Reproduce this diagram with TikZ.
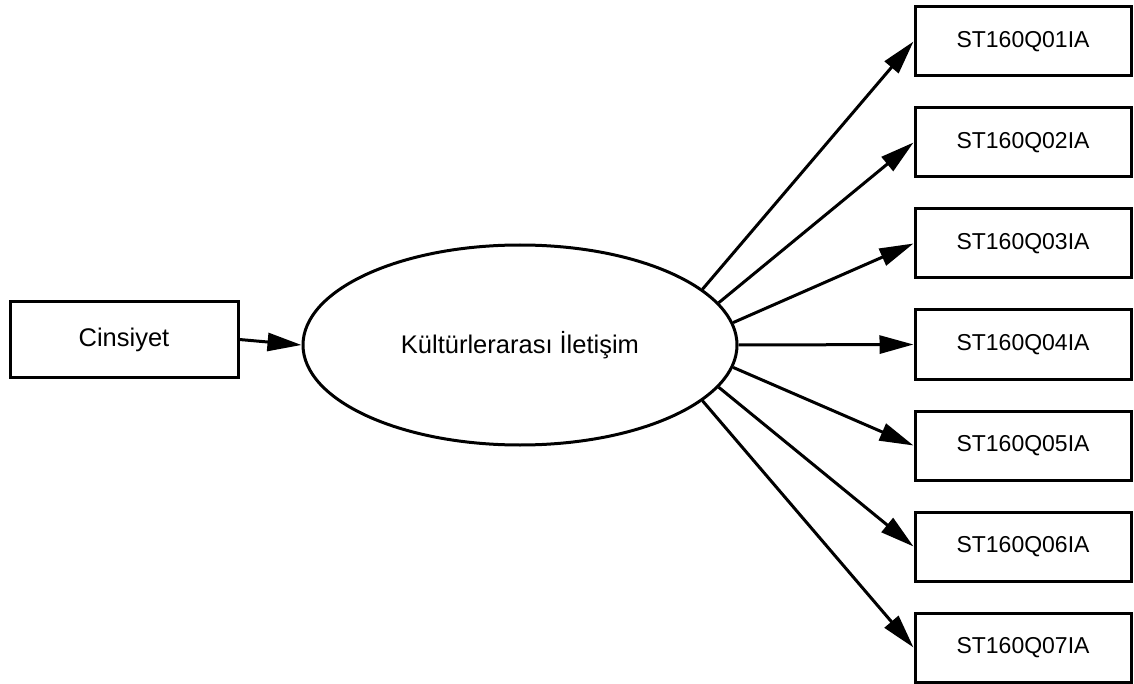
\documentclass[tikz,border=0pt]{standalone}
\usepackage{fontspec}
\setmainfont{Liberation Sans}
\usetikzlibrary{shapes.geometric,arrows.meta}
\begin{document}
\begin{tikzpicture}[x=1pt,y=-1pt,
  itembox/.style={draw,line width=3pt,minimum width=216pt,minimum height=69pt,inner sep=0pt,font=\fontsize{23}{27}\selectfont},
  srcbox/.style={draw,line width=3pt,minimum width=228pt,minimum height=75pt,inner sep=0pt,font=\fontsize{25.5}{30}\selectfont},
  latent/.style={draw,ellipse,line width=3pt,minimum width=434pt,minimum height=200pt,inner sep=0pt,font=\fontsize{25.5}{30}\selectfont},
  link/.style={line width=3pt,-{Triangle[length=34pt,width=18pt]}}]
\useasboundingbox (0,0) rectangle (1134,684);
\node[srcbox] (c) at (124,339.5) {Cinsiyet};
\node[latent] (e) at (520,345) {Kültürlerarası İletişim};
\node[itembox] (b1) at (1023,41.5) {ST160Q01IA};
\node[itembox] (b2) at (1023,142.5) {ST160Q02IA};
\node[itembox] (b3) at (1023,243.5) {ST160Q03IA};
\node[itembox] (b4) at (1023,344.5) {ST160Q04IA};
\node[itembox] (b5) at (1023,445.5) {ST160Q05IA};
\node[itembox] (b6) at (1023,546.5) {ST160Q06IA};
\node[itembox] (b7) at (1023,647.5) {ST160Q07IA};
\draw[link] (c.east) -- (e.west);
\draw[link] (e.17) -- (b1.west);
\draw[link] (e.12) -- (b2.west);
\draw[link] (e.6.3) -- (b3.west);
\draw[link] (e.0) -- (b4.west);
\draw[link] (e.-6.3) -- (b5.west);
\draw[link] (e.-12) -- (b6.west);
\draw[link] (e.-17) -- (b7.west);
\end{tikzpicture}
\end{document}
